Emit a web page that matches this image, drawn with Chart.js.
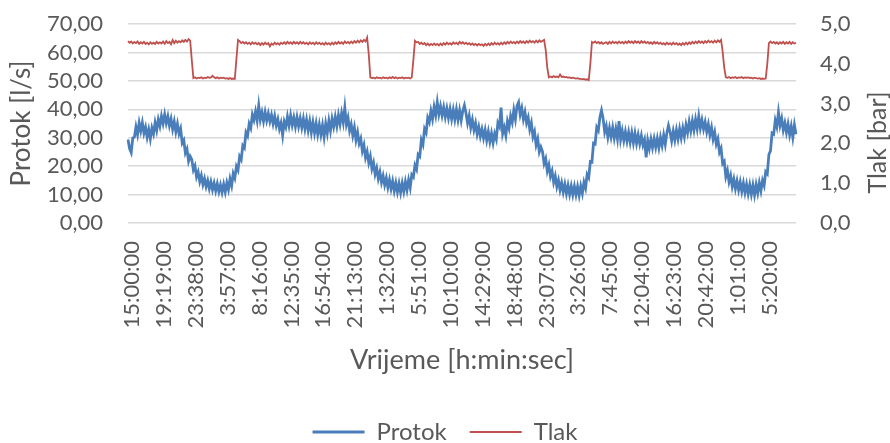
<!DOCTYPE html>
<html>
<head>
<meta charset="utf-8">
<script src="https://cdn.jsdelivr.net/npm/chart.js@4/dist/chart.umd.min.js"></script>
<style>
  body { margin: 0; background: #ffffff; }
  #chart { display: block; }
</style>
</head>
<body>
<canvas id="chart" width="890" height="443"></canvas>
<script>
// Time axis: one sample every 12 min 57 s, a label on every 20th sample
var tickLabels = ['15:00:00', '19:19:00', '23:38:00', '3:57:00', '8:16:00', '12:35:00', '16:54:00',
  '21:13:00', '1:32:00', '5:51:00', '10:10:00', '14:29:00', '18:48:00', '23:07:00', '3:26:00',
  '7:45:00', '12:04:00', '16:23:00', '20:42:00', '1:01:00', '5:20:00'];
var labelEvery = 20;

// Protok [l/s]
var protok = [
  29.4, 26.2, 24.8, 29.9, 30.2, 33.8, 31.1, 35.2, 32.4, 35.3, 31.6, 33.7, 30.2, 32.9, 29.6, 33.4, 31.4, 35.3, 32.6, 36.4,
  34.1, 37.6, 35.0, 38.2, 35.1, 37.5, 34.2, 36.6, 33.0, 35.7, 32.1, 34.9, 31.4, 33.2, 28.1, 29.1, 24.6, 26.0, 21.7, 23.5,
  22.4, 18.7, 20.1, 16.2, 17.9, 14.6, 16.7, 13.5, 15.6, 12.8, 14.9, 12.1, 14.5, 11.7, 14.0, 11.3, 13.8, 11.0, 13.4, 10.8,
  13.6, 10.9, 14.1, 11.8, 15.5, 13.1, 17.4, 15.8, 19.9, 18.6, 23.4, 22.3, 27.2, 26.4, 31.9, 30.7, 34.9, 33.4, 38.1, 36.2,
  39.2, 36.1, 41.3, 36.4, 38.9, 35.8, 39.0, 36.0, 38.5, 35.7, 38.0, 34.9, 37.6, 34.3, 36.5, 33.1, 35.2, 30.9, 35.6, 33.8,
  37.4, 34.3, 37.8, 34.4, 37.1, 33.9, 37.2, 34.0, 36.8, 33.6, 36.7, 33.1, 36.3, 32.6, 35.8, 31.9, 35.4, 31.7, 35.0, 31.2,
  34.6, 31.1, 34.4, 30.3, 34.9, 31.6, 35.9, 32.5, 36.7, 33.9, 37.3, 34.1, 37.9, 34.8, 38.6, 35.4, 40.6, 34.7, 37.0, 32.5,
  34.7, 30.8, 33.6, 29.2, 31.9, 28.0, 29.7, 25.3, 27.4, 23.0, 25.1, 21.2, 23.5, 19.1, 21.2, 17.2, 19.3, 15.6, 17.9, 14.3,
  16.6, 13.4, 15.8, 12.5, 15.2, 12.0, 14.7, 11.3, 14.1, 10.9, 13.9, 10.7, 14.0, 11.1, 14.5, 11.6, 15.1, 12.4, 17.0, 16.2,
  20.3, 18.9, 24.1, 23.4, 29.2, 27.6, 33.1, 31.8, 37.0, 35.5, 39.4, 36.6, 40.8, 37.9, 42.5, 38.3, 41.1, 37.8, 40.7, 37.3,
  40.3, 37.0, 40.1, 36.6, 39.8, 36.4, 39.9, 36.3, 39.6, 36.1, 39.5, 41.4, 38.6, 35.1, 37.7, 33.6, 36.3, 32.7, 35.1, 31.3,
  33.8, 30.5, 33.0, 29.9, 32.7, 29.1, 32.1, 28.6, 31.5, 28.2, 31.4, 29.5, 35.2, 33.9, 40.6, 31.4, 33.6, 30.8, 35.7, 33.4,
  37.6, 35.4, 39.7, 36.5, 41.2, 42.5, 38.1, 40.4, 36.5, 39.0, 35.2, 37.1, 32.9, 35.2, 30.3, 32.1, 27.5, 29.6, 25.0, 26.7,
  25.1, 20.9, 22.6, 18.3, 20.4, 16.4, 18.3, 14.3, 16.5, 12.8, 15.0, 11.6, 14.1, 10.9, 13.6, 10.3, 13.2, 10.1, 13.0, 9.9,
  12.9, 9.9, 12.8, 9.7, 13.0, 10.4, 14.3, 12.3, 17.1, 16.0, 21.6, 21.4, 28.1, 27.8, 33.6, 32.5, 37.2, 39.6, 36.8, 32.0,
  34.1, 30.2, 33.4, 30.3, 33.6, 29.9, 33.1, 29.6, 35.8, 29.4, 32.4, 29.0, 32.1, 28.8, 31.9, 28.4, 31.7, 28.2, 31.5, 28.0,
  31.0, 27.9, 30.7, 27.4, 29.3, 23.1, 29.0, 26.2, 29.5, 26.5, 29.6, 26.6, 29.7, 26.5, 30.1, 27.3, 30.9, 27.7, 31.7, 34.3,
  32.0, 28.9, 32.3, 29.2, 32.7, 29.6, 33.1, 30.0, 33.4, 30.4, 34.5, 31.8, 35.6, 32.4, 35.9, 32.7, 36.4, 33.2, 37.5, 33.4,
  36.2, 33.0, 35.5, 32.1, 34.7, 31.0, 33.6, 29.5, 31.9, 27.8, 29.6, 24.9, 26.3, 20.9, 21.7, 16.3, 18.4, 14.5, 16.7, 12.8,
  15.4, 12.1, 14.8, 11.6, 14.4, 11.1, 14.0, 10.7, 13.6, 10.3, 13.4, 10.1, 13.3, 9.9, 13.5, 10.6, 14.1, 11.3, 15.0, 13.2,
  18.0, 17.3, 24.1, 25.4, 31.6, 31.2, 36.1, 33.9, 38.9, 34.4, 36.8, 32.7, 35.2, 31.9, 34.8, 31.0, 34.0, 30.1, 34.5, 31.2
];

// Tlak [bar]
var tlak = [
  4.57, 4.53, 4.56, 4.51, 4.55, 4.52, 4.56, 4.50, 4.54, 4.51, 4.55, 4.50, 4.53, 4.49, 4.54, 4.50, 4.53, 4.50, 4.55, 4.51,
  4.54, 4.51, 4.56, 4.50, 4.57, 4.52, 4.55, 4.49, 4.60, 4.52, 4.58, 4.53, 4.57, 4.54, 4.59, 4.55, 4.60, 4.56, 4.62, 4.58,
  4.10, 3.64, 3.66, 3.63, 3.65, 3.64, 3.66, 3.63, 3.65, 3.64, 3.67, 3.65, 3.66, 3.70, 3.66, 3.64, 3.66, 3.63, 3.65, 3.64,
  3.65, 3.63, 3.64, 3.62, 3.64, 3.62, 3.63, 3.62, 4.12, 4.60, 4.57, 4.52, 4.55, 4.51, 4.54, 4.50, 4.53, 4.49, 4.54, 4.50,
  4.53, 4.49, 4.52, 4.47, 4.52, 4.48, 4.53, 4.49, 4.52, 4.44, 4.51, 4.48, 4.53, 4.49, 4.52, 4.48, 4.53, 4.50, 4.54, 4.50,
  4.55, 4.51, 4.54, 4.50, 4.55, 4.51, 4.54, 4.50, 4.55, 4.51, 4.54, 4.50, 4.53, 4.49, 4.54, 4.50, 4.53, 4.49, 4.54, 4.50,
  4.53, 4.49, 4.52, 4.48, 4.53, 4.49, 4.52, 4.48, 4.53, 4.49, 4.54, 4.50, 4.55, 4.51, 4.54, 4.50, 4.56, 4.52, 4.55, 4.51,
  4.56, 4.52, 4.57, 4.53, 4.58, 4.54, 4.59, 4.55, 4.60, 4.56, 4.66, 4.25, 3.66, 3.64, 3.65, 3.63, 3.66, 3.64, 3.65, 3.63,
  3.66, 3.64, 3.65, 3.63, 3.66, 3.64, 3.67, 3.64, 3.66, 3.63, 3.65, 3.64, 3.66, 3.63, 3.65, 3.64, 3.65, 3.63, 3.66, 4.10,
  4.58, 4.54, 4.55, 4.50, 4.53, 4.49, 4.52, 4.47, 4.51, 4.46, 4.50, 4.47, 4.51, 4.47, 4.50, 4.46, 4.51, 4.47, 4.52, 4.48,
  4.53, 4.49, 4.52, 4.48, 4.54, 4.50, 4.53, 4.49, 4.55, 4.51, 4.54, 4.50, 4.53, 4.49, 4.52, 4.48, 4.51, 4.47, 4.50, 4.46,
  4.50, 4.47, 4.49, 4.45, 4.50, 4.46, 4.51, 4.47, 4.52, 4.48, 4.53, 4.49, 4.52, 4.48, 4.53, 4.49, 4.54, 4.50, 4.55, 4.51,
  4.56, 4.52, 4.55, 4.51, 4.56, 4.52, 4.57, 4.53, 4.56, 4.52, 4.57, 4.53, 4.58, 4.54, 4.57, 4.53, 4.58, 4.54, 4.59, 4.55,
  4.58, 4.60, 4.35, 3.90, 3.66, 3.68, 3.66, 3.69, 3.67, 3.68, 3.66, 3.73, 3.67, 3.68, 3.66, 3.67, 3.65, 3.66, 3.64, 3.65,
  3.64, 3.63, 3.64, 3.62, 3.62, 3.61, 3.62, 3.60, 3.61, 3.59, 4.00, 4.55, 4.53, 4.56, 4.52, 4.55, 4.51, 4.54, 4.50, 4.53,
  4.54, 4.50, 4.55, 4.51, 4.56, 4.52, 4.55, 4.51, 4.56, 4.52, 4.55, 4.51, 4.56, 4.52, 4.57, 4.53, 4.56, 4.52, 4.57, 4.53,
  4.56, 4.52, 4.57, 4.53, 4.56, 4.52, 4.55, 4.51, 4.54, 4.50, 4.55, 4.51, 4.54, 4.50, 4.53, 4.49, 4.52, 4.48, 4.53, 4.49,
  4.52, 4.48, 4.53, 4.49, 4.52, 4.48, 4.51, 4.47, 4.52, 4.48, 4.53, 4.49, 4.54, 4.50, 4.55, 4.51, 4.56, 4.52, 4.57, 4.53,
  4.56, 4.52, 4.57, 4.53, 4.58, 4.54, 4.57, 4.53, 4.58, 4.54, 4.59, 4.55, 4.60, 4.30, 3.90, 3.66, 3.65, 3.67, 3.64, 3.66,
  3.65, 3.67, 3.64, 3.66, 3.65, 3.67, 3.64, 3.66, 3.65, 3.66, 3.64, 3.65, 3.63, 3.65, 3.64, 3.63, 3.64, 3.62, 3.63, 3.62,
  3.63, 4.00, 4.52, 4.56, 4.52, 4.55, 4.51, 4.54, 4.50, 4.54, 4.51, 4.55, 4.50, 4.54, 4.51, 4.55, 4.50, 4.54, 4.51, 4.53
];

var samples = [];
for (var i = 0; i < protok.length; i++) {
  samples.push(i);
}

var textColor = '#595959';
var gridColor = '#d9d9d9';
var blue = '#4a7ebb';
var red = '#c0504d';

Chart.defaults.font.family = 'Lato';
Chart.defaults.color = textColor;

function comma(value, digits) {
  return value.toFixed(digits).replace('.', ',');
}

// Keep the plot top on the 70,00 line: no extra room for half a tick label
function fixWidth(width) {
  return function (scale) {
    scale.width = width;
    scale.paddingTop = 0;
    scale.paddingBottom = 0;
  };
}

// Right axis title, written bottom-to-top like the left one
var rightTitle = {
  id: 'rightTitle',
  afterDraw: function (chart) {
    var scale = chart.scales.yTlak;
    var ctx = chart.ctx;
    ctx.save();
    ctx.translate(scale.right - 12, (scale.top + scale.bottom) / 2 + 19);
    ctx.rotate(-Math.PI / 2);
    ctx.font = '25px Lato';
    ctx.fillStyle = textColor;
    ctx.textAlign = 'center';
    ctx.textBaseline = 'middle';
    ctx.fillText('Tlak [bar]', 0, 0);
    ctx.restore();
  }
};

new Chart(document.getElementById('chart'), {
  type: 'line',
  data: {
    labels: samples,
    datasets: [
      {
        label: 'Protok',
        data: protok,
        yAxisID: 'yProtok',
        borderColor: blue,
        backgroundColor: blue,
        borderWidth: 2.8,
        pointRadius: 0,
        tension: 0
      },
      {
        label: 'Tlak',
        data: tlak,
        yAxisID: 'yTlak',
        borderColor: red,
        backgroundColor: red,
        borderWidth: 1.8,
        pointRadius: 0,
        tension: 0
      }
    ]
  },
  options: {
    responsive: false,
    animation: false,
    devicePixelRatio: 1,
    layout: { padding: { top: 24, right: 0, bottom: -11, left: 0 } },
    plugins: {
      tooltip: { enabled: false },
      legend: {
        position: 'bottom',
        labels: {
          usePointStyle: true,
          pointStyle: 'line',
          pointStyleWidth: 52,
          padding: 23,
          color: textColor,
          font: { size: 24 }
        }
      }
    },
    scales: {
      x: {
        type: 'category',
        offset: false,
        grid: { display: false, drawTicks: false },
        border: { display: false },
        ticks: {
          autoSkip: false,
          minRotation: 90,
          maxRotation: 90,
          padding: 18,
          labelOffset: 4,
          font: { size: 22 },
          callback: function (value, index) {
            return index % labelEvery === 0 ? tickLabels[index / labelEvery] : null;
          }
        },
        title: {
          display: true,
          text: 'Vrijeme [h:min:sec]',
          font: { size: 27 },
          padding: { top: 0, bottom: 21 }
        },
        afterFit: function (scale) { scale.height = 174; }
      },
      yProtok: {
        position: 'left',
        min: 0,
        max: 70,
        grid: { color: gridColor, lineWidth: 1.5, drawTicks: false },
        border: { display: false },
        ticks: {
          stepSize: 10,
          autoSkip: false,
          padding: 25,
          font: { size: 22 },
          callback: function (value) { return comma(value, 2); }
        },
        title: {
          display: true,
          text: 'Protok [l/s]',
          font: { size: 26 },
          padding: { top: 6, bottom: 0 }
        },
        afterFit: fixWidth(128)
      },
      yTlak: {
        position: 'right',
        min: 0,
        max: 5,
        grid: { display: false, drawTicks: false },
        border: { display: false },
        ticks: {
          stepSize: 1,
          autoSkip: false,
          padding: 24,
          font: { size: 22 },
          callback: function (value) { return comma(value, 1); }
        },
        afterFit: fixWidth(94)
      }
    }
  },
  plugins: [rightTitle]
});
</script>
</body>
</html>
